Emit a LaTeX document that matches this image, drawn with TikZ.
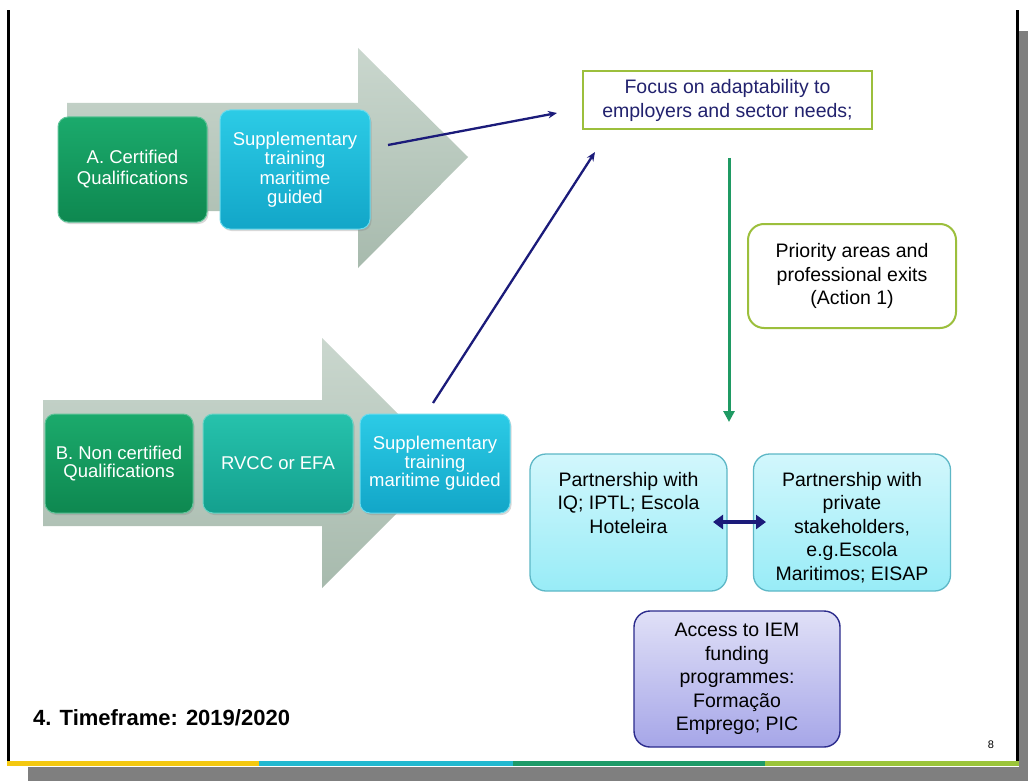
\documentclass[tikz,border=0pt]{standalone}
\usepackage{fontspec}
\setmainfont{Liberation Sans}
\usetikzlibrary{arrows.meta,shadows,calc}
\definecolor{navy}{HTML}{1B1B7A}
\definecolor{navytext}{HTML}{22226E}
\definecolor{lime}{HTML}{9CBF3C}
\definecolor{arrtop}{HTML}{CAD7CE}
\definecolor{arrbot}{HTML}{A7BAAD}
\definecolor{greentop}{HTML}{1BAA6C}
\definecolor{greenbot}{HTML}{0E8850}
\definecolor{cyantop}{HTML}{2CCBE6}
\definecolor{cyanbot}{HTML}{12A6C8}
\definecolor{tealtop}{HTML}{26C2AC}
\definecolor{tealbot}{HTML}{14A08E}
\definecolor{ptop}{HTML}{D2F7FC}
\definecolor{pbot}{HTML}{98ECF7}
\definecolor{pborder}{HTML}{5DB7C6}
\definecolor{ltop}{HTML}{E0E0F7}
\definecolor{lbot}{HTML}{A6A6E8}
\definecolor{lborder}{HTML}{2B2B8C}
\definecolor{darrow}{HTML}{1F9A63}
\definecolor{shadowgray}{HTML}{7F7F7F}
\definecolor{barY}{HTML}{F4C810}
\definecolor{barC}{HTML}{22B8D0}
\definecolor{barG}{HTML}{1E9A68}
\definecolor{barL}{HTML}{9BC43A}
\begin{document}
\begin{tikzpicture}[x=1pt,y=-1pt,
  lbox/.style={rounded corners=10pt, inner sep=0pt, align=center, text=white,
    line width=1pt,
    drop shadow={opacity=0.3,shadow xshift=1.5pt,shadow yshift=-2pt}},
  gbox/.style={lbox, top color=greentop, bottom color=greenbot, draw=greentop!70!white},
  cbox/.style={lbox, top color=cyantop, bottom color=cyanbot, draw=cyantop!70!white},
  tbox/.style={lbox, top color=tealtop, bottom color=tealbot, draw=tealtop!70!white},
  pbox/.style={draw=pborder, line width=1.3pt, rounded corners=16pt, inner sep=0pt,
    top color=ptop, bottom color=pbot, minimum width=197pt, minimum height=137pt,
    font=\fontsize{19.5}{23.6}\selectfont},
  bluearrow/.style={draw=navy, line width=2.3pt, -{Stealth[length=9pt,width=7.5pt]}},
]
\useasboundingbox (0,0) rectangle (1028,781);
\fill[white] (0,0) rectangle (1028,781);
% page shadow and frame
\fill[shadowgray] (1019,31) rectangle (1028,781);
\fill[shadowgray] (28,767) rectangle (1028,781);
\fill[black] (7,10) rectangle (9.5,766);
\fill[black] (1016,10) rectangle (1018.5,766);
\fill[barY] (7,761) rectangle (259,766);
\fill[barC] (259,761) rectangle (513,766);
\fill[barG] (513,761) rectangle (765,766);
\fill[barL] (765,761) rectangle (1018.5,766);

% big background arrows
\shade[top color=arrtop, bottom color=arrbot]
  (67,103) -- (358,103) -- (358,48) -- (468,157) -- (358,268) -- (358,211) -- (67,211) -- cycle;
\shade[top color=arrtop, bottom color=arrbot]
  (43,400) -- (322,400) -- (322,338) -- (447,463) -- (322,588) -- (322,526) -- (43,526) -- cycle;

% left boxes
\node[gbox, minimum width=149pt, minimum height=105pt, font=\fontsize{18.5}{21}\selectfont]
  (a1) at (132.5,169.5) {A. Certified\\Qualifications};
\node[cbox, minimum width=150pt, minimum height=119pt, font=\fontsize{18.5}{19.5}\selectfont]
  (a2) at (295,169.5) {Supplementary\\training\\maritime\\guided};
\node[gbox, minimum width=148pt, minimum height=99pt, font=\fontsize{18.5}{18.5}\selectfont]
  (b1) at (119,463.5) {B. Non certified\\Qualifications};
\node[tbox, minimum width=150pt, minimum height=99pt, font=\fontsize{18.5}{18.5}\selectfont]
  (b2) at (278,463.5) {RVCC or EFA};
\node[cbox, minimum width=150pt, minimum height=99pt, font=\fontsize{18.5}{18.5}\selectfont]
  (b3) at (435,463.5) {Supplementary\\training\\maritime guided};

% right boxes
\node[draw=lime, line width=2.4pt, inner sep=0pt, minimum width=289pt, minimum height=58pt,
  align=center, text=navytext, font=\fontsize{19.5}{24}\selectfont]
  (focus) at (727.5,100) {Focus on adaptability to\\employers and sector needs;};
\node[draw=lime, line width=2pt, rounded corners=16pt, inner sep=0pt, minimum width=208pt,
  minimum height=104pt, align=center, font=\fontsize{19.5}{23.5}\selectfont]
  (prio) at (852,276) {Priority areas and\\professional exits\\(Action 1)};
\node[pbox] (p1) at (628.5,522.5)
  {\begin{minipage}[c][137pt][t]{197pt}\centering\vspace*{18pt}Partnership with\\IQ; IPTL; Escola\\Hoteleira\end{minipage}};
\node[pbox] (p2) at (852,522.5)
  {\begin{minipage}[c][137pt][t]{197pt}\centering\vspace*{18pt}Partnership with\\private\\stakeholders,\\e.g.Escola\\Maritimos; EISAP\end{minipage}};
\node[draw=lborder, line width=1.4pt, rounded corners=16pt, inner sep=0pt,
  top color=ltop, bottom color=lbot, minimum width=206pt, minimum height=136pt,
  align=center, font=\fontsize{19.5}{23.6}\selectfont]
  (iem) at (737,679) {Access to IEM\\funding\\programmes:\\Formação\\Emprego; PIC};

% texts
\node[anchor=base west, inner sep=0pt, font=\fontsize{22}{26}\selectfont\bfseries]
  (tf) at (33,725) {4. Timeframe: 2019/2020};
\node[inner sep=0pt, font=\fontsize{11}{13}\selectfont] (pg) at (991,745) {8};

% connectors
\coordinate (s1) at (388,145);
\coordinate (e1) at (557,113);
\coordinate (s2) at (433,403);
\coordinate (e2) at (595,152);
\coordinate (gs) at (729,158);
\coordinate (ge) at (729,422);
\coordinate (dl) at (713,522);
\coordinate (dr) at (766,522);
\draw[bluearrow] (s1) -- (e1);
\draw[bluearrow] (s2) -- (e2);
\draw[draw=darrow, line width=3pt, -{Triangle[length=11pt,width=11pt]}] (gs) -- (ge);
\draw[draw=navy, line width=4pt, {Triangle[length=10pt,width=14pt]}-{Triangle[length=10pt,width=14pt]}] (dl) -- (dr);
\end{tikzpicture}
\end{document}
